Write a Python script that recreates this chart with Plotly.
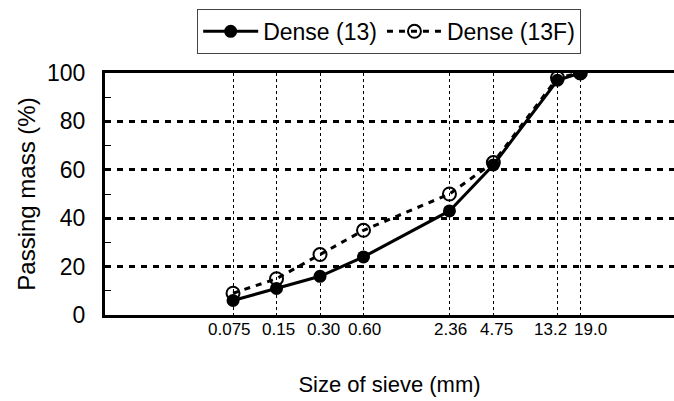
import math
import plotly.graph_objects as go

sieve = [0.075, 0.15, 0.30, 0.60, 2.36, 4.75, 13.2, 19.0]
tick_labels = ["0.075", "0.15", "0.30", "0.60", "2.36", "4.75", "13.2", "19.0"]
dense13 = [6, 11, 16, 24, 43, 62, 97, 100]
dense13f = [9, 15, 25, 35, 50, 63, 98, 100]

# style: horizontal nudge (px) of each sieve label, as in the original figure
label_nudge = [-4, 2, 3, 1, 1, 3, -7, 10]

FONT = "Liberation Sans, Arial, sans-serif"

def nf(size):
    return dict(family=FONT, size=size, color="black")

fig = go.Figure()
fig.add_trace(go.Scatter(
    x=sieve, y=dense13, name="Dense (13)", mode="lines+markers",
    line=dict(color="black", width=3),
    marker=dict(symbol="circle", size=13, color="black"),
))
fig.add_trace(go.Scatter(
    x=sieve, y=dense13f, name="Dense (13F)", mode="lines+markers",
    line=dict(color="black", width=3, dash="6px,6px"),
    marker=dict(symbol="circle-open", size=13, color="black", line=dict(width=2)),
))

for v, lab, dx in zip(sieve, tick_labels, label_nudge):
    fig.add_annotation(
        x=math.log10(v), xref="x", y=0, yref="paper",
        text=lab, showarrow=False, xanchor="center", yanchor="top",
        xshift=dx, yshift=-3, font=nf(17),
    )

fig.update_layout(
    width=674, height=401,
    margin=dict(l=105, r=0, t=73, b=86),
    paper_bgcolor="white", plot_bgcolor="white",
    font=nf(20),
    showlegend=True,
    legend=dict(
        orientation="h", x=0.162, y=1.265, xanchor="left", yanchor="top",
        bordercolor="#444", borderwidth=1, bgcolor="white",
        font=nf(23), itemwidth=55,
        tracegroupgap=0,
    ),
)
fig.update_xaxes(
    type="log", range=[-2.011, 1.927],
    tickvals=sieve, showticklabels=False, ticks="",
    showgrid=True, gridcolor="black", gridwidth=1, griddash="dot",
    showline=True, linecolor="black", linewidth=3, mirror=True,
    zeroline=False,
    title=dict(text="Size of sieve (mm)", font=nf(22), standoff=60),
)
fig.update_yaxes(
    range=[0, 100], tickvals=[0, 20, 40, 60, 80, 100], ticks="",
    tickfont=nf(23), ticklabelstandoff=12,
    showgrid=True, gridcolor="black", gridwidth=3, griddash="6px,6px",
    showline=True, linecolor="black", linewidth=3,
    zeroline=False,
    minor=dict(tickvals=[10, 30, 50, 70, 90], ticks="inside", ticklen=6, tickcolor="black", tickwidth=1, showgrid=False),
    title=dict(text="Passing mass (%)", font=nf(24), standoff=5),
)

fig.write_html("out.html")
